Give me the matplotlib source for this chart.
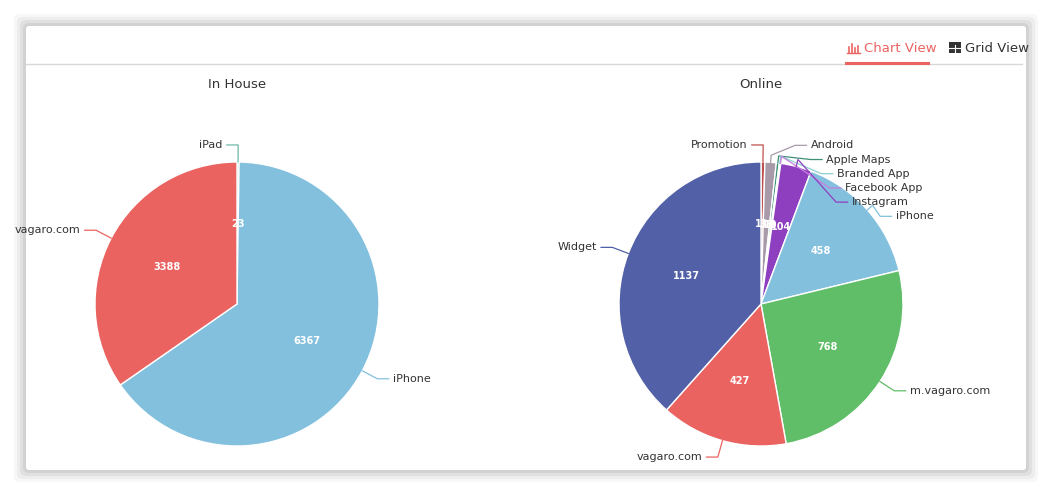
import matplotlib
matplotlib.use("Agg")
import matplotlib.pyplot as plt
import numpy as np
from matplotlib.patches import FancyBboxPatch, Rectangle

inhouse_labels = ["iPad", "iPhone", "vagaro.com"]
inhouse_values = [23, 6367, 3388]
inhouse_colors = ["#6fb8a8", "#83c0de", "#eb6361"]

online_labels = ["Promotion", "Android", "Apple Maps", "Branded App", "Facebook App",
                 "Instagram", "iPhone", "m.vagaro.com", "vagaro.com", "Widget"]
online_values = [13, 38, 10, 3, 2, 104, 458, 768, 427, 1137]
online_colors = ["#c0504d", "#a89aa8", "#3e8f78", "#8fd0d0", "#c77fe0",
                 "#8e3fbf", "#83c0de", "#60bd68", "#eb6361", "#5260a8"]

W, H = 1051, 496
fig = plt.figure(figsize=(W/100, H/100), dpi=100)
fig.patch.set_facecolor("white")
bg = fig.add_axes([0, 0, 1, 1]); bg.set_xlim(0, W); bg.set_ylim(H, 0); bg.axis("off")
for i, a in enumerate([0.03, 0.04, 0.05, 0.06]):
    d = 12 - i*3
    bg.add_patch(FancyBboxPatch((26-d, 26-d), 1000+2*d, 444+2*d, boxstyle="round,pad=0,rounding_size=6",
                                fc="black", ec="none", alpha=a))
bg.add_patch(FancyBboxPatch((26, 26), 1000, 444, boxstyle="round,pad=0,rounding_size=3", fc="white", ec="none"))
bg.plot([26, 1022], [64, 64], color="#d8d8d8", lw=1)
bg.plot([846, 928], [63, 63], color="#eb6361", lw=2.2)
bg.text(864, 48, "Chart View", color="#eb6361", fontsize=9.5, va="center", family="DejaVu Sans")
for bx, bh in ((849, 6), (852, 9), (855, 5), (858, 7)):
    bg.plot([bx, bx], [53, 53-bh], color="#eb6361", lw=1.2)
bg.plot([847, 860], [53, 53], color="#eb6361", lw=1)
bg.text(965, 48, "Grid View", color="#333333", fontsize=9.5, va="center", family="DejaVu Sans")
bg.add_patch(Rectangle((949, 42), 12, 11, fc="#333333", ec="none"))
bg.plot([949, 961], [47.5, 47.5], color="white", lw=0.8)
bg.plot([955, 955], [45, 53], color="white", lw=0.8)
bg.text(237, 85, "In House", ha="center", va="center", fontsize=9.5, color="#333333")
bg.text(761, 85, "Online", ha="center", va="center", fontsize=9.5, color="#333333")

R = 142.0
def draw(cx, cy, labels, values, colors):
    side = 1.9 * R
    ax = fig.add_axes([(cx-side)/W, 1-(cy+side)/H, 2*side/W, 2*side/H])
    wedges, _ = ax.pie(values, colors=colors, startangle=90, counterclock=False,
                       wedgeprops=dict(edgecolor="white", linewidth=1), radius=1.0)
    ax.set_xlim(-1.9, 1.9); ax.set_ylim(-1.9, 1.9); ax.set_aspect("auto"); ax.axis("off")
    items = []
    for w, lab, v, c in zip(wedges, labels, values, colors):
        ang = np.deg2rad((w.theta1 + w.theta2) / 2)
        x, y = np.cos(ang), np.sin(ang)
        ax.text(0.56*x, 0.56*y, str(v), ha="center", va="center", color="white",
                fontsize=7, fontweight="bold")
        items.append([x, y, lab, c])
    right = sorted([it for it in items if it[0] >= 0.02], key=lambda t: -t[1])
    left = sorted([it for it in items if it[0] < 0.02], key=lambda t: -t[1])
    for group, sgn in ((right, 1), (left, -1)):
        prev = None
        for it in group:
            x, y, lab, c = it
            ly = 1.12*y
            if prev is not None and ly > prev - 0.1:
                ly = prev - 0.1
            prev = ly
            lx = 1.12*x
            if abs(ly) < 1.2:
                circ = np.sqrt(max(1.2**2 - ly**2, 0)) * 0.55
                lx = sgn*max(abs(lx), circ) if len(group) > 3 else lx
            tx = lx + sgn*0.08
            ax.plot([x, 1.05*x, lx, tx], [y, 1.05*y, ly, ly], color=c, lw=0.9)
            ax.text(tx + sgn*0.03, ly, lab, ha="left" if sgn > 0 else "right", va="center",
                    fontsize=8, color="#333333")

draw(237, 304, inhouse_labels, inhouse_values, inhouse_colors)
draw(761, 304, online_labels, online_values, online_colors)
fig.savefig("out.png", dpi=100)
